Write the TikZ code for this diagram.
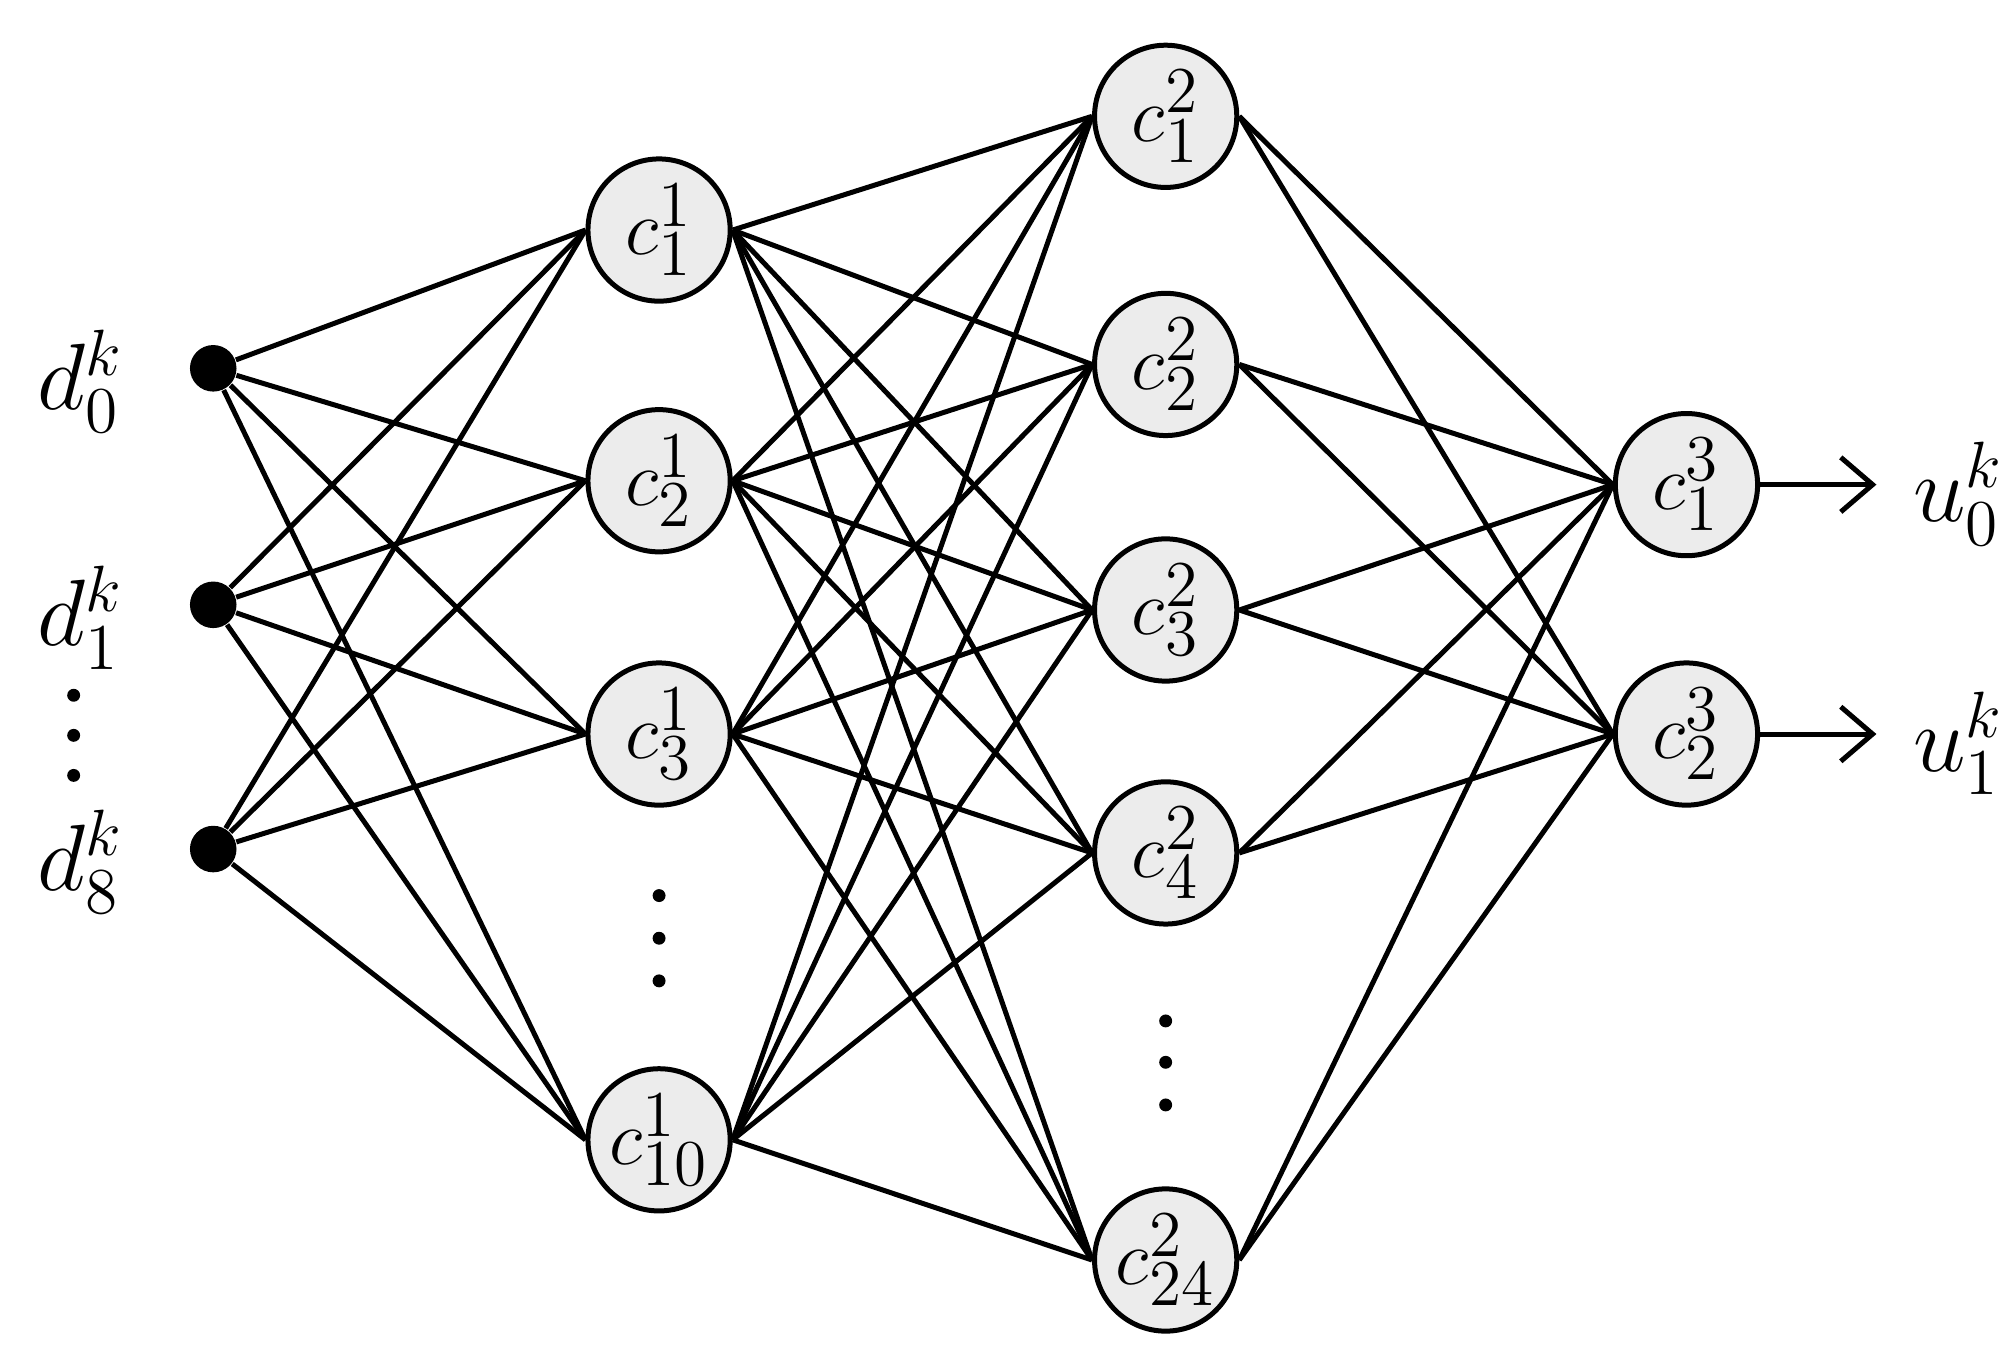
\documentclass[tikz,border=0pt]{standalone}
\usetikzlibrary{arrows.meta}
\begin{document}
\begin{tikzpicture}[x=0.01cm,y=-0.01cm,
  neuron/.style={circle,draw,line width=1.1pt,fill=gray!15,minimum size=1.1cm,inner sep=0pt,font=\fontsize{19}{21}\selectfont},
  inp/.style={circle,fill=black,minimum size=0.36cm,inner sep=0pt},
  lab/.style={font=\fontsize{21}{23}\selectfont},
  edge/.style={line width=1.1pt},
  vdots/.style={circle,fill=black,minimum size=0.1cm,inner sep=0pt}]
\useasboundingbox (0,0) rectangle (1560,1060);
\node[inp] (i0) at (165,285) {};
\node[inp] (i1) at (165,468) {};
\node[inp] (i8) at (165,657) {};
\node[lab] (l0) at (62,295) {$d_0^k$};
\node[lab] (l1) at (62,478) {$d_1^k$};
\node[lab] (l8) at (62,667) {$d_8^k$};
\node[vdots] (v0a) at (57,538) {};
\node[vdots] (v0b) at (57,569) {};
\node[vdots] (v0c) at (57,600) {};
\node[neuron] (a1) at (510,178) {$c_1^1$};
\node[neuron] (a2) at (510,372) {$c_2^1$};
\node[neuron] (a3) at (510,568) {$c_3^1$};
\node[neuron] (a10) at (510,882) {$c_{10}^1$};
\node[vdots] (v1a) at (510,693) {};
\node[vdots] (v1b) at (510,726) {};
\node[vdots] (v1c) at (510,759) {};
\node[neuron] (b1) at (902,90) {$c_1^2$};
\node[neuron] (b2) at (902,282) {$c_2^2$};
\node[neuron] (b3) at (902,472) {$c_3^2$};
\node[neuron] (b4) at (902,660) {$c_4^2$};
\node[neuron] (b24) at (902,975) {$c_{24}^2$};
\node[vdots] (v2a) at (902,790) {};
\node[vdots] (v2b) at (902,822) {};
\node[vdots] (v2c) at (902,855) {};
\node[neuron] (o1) at (1305,375) {$c_1^3$};
\node[neuron] (o2) at (1305,568) {$c_2^3$};
\coordinate (e1) at (1452,375);
\coordinate (e2) at (1452,568);
\node[lab,anchor=west] (u0) at (1468,382) {$u_0^k$};
\node[lab,anchor=west] (u1) at (1468,575) {$u_1^k$};
\foreach \i in {i0,i1,i8}
  \foreach \j in {a1,a2,a3,a10}
    \draw[edge] (\i) -- (\j.west);
\foreach \i in {a1,a2,a3,a10}
  \foreach \j in {b1,b2,b3,b4,b24}
    \draw[edge] (\i.east) -- (\j.west);
\foreach \i in {b1,b2,b3,b4,b24}
  \foreach \j in {o1,o2}
    \draw[edge] (\i.east) -- (\j.west);
\draw[edge,-{Straight Barb[length=7pt,width=12pt]}] (o1.east) -- (e1);
\draw[edge,-{Straight Barb[length=7pt,width=12pt]}] (o2.east) -- (e2);
\end{tikzpicture}
\end{document}
